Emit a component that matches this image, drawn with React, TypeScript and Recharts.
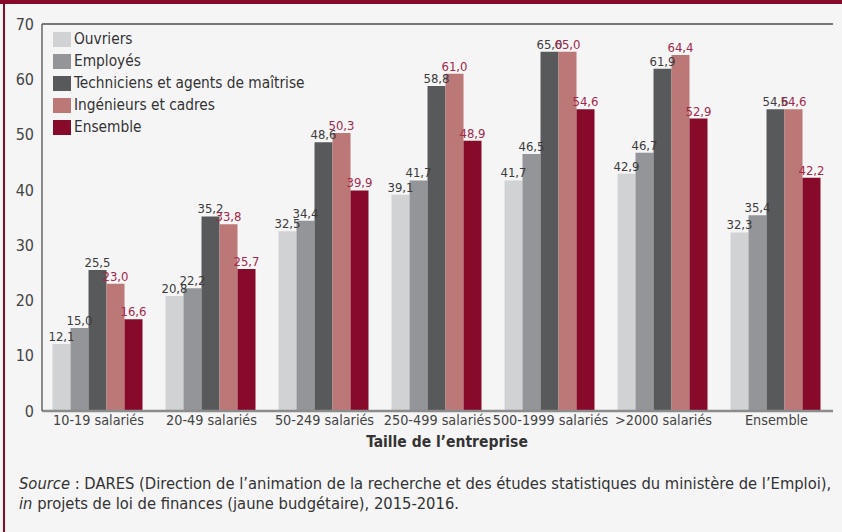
import React from "react";
import {
  BarChart,
  Bar,
  XAxis,
  YAxis,
  CartesianGrid,
  Legend,
  LabelList,
  ReferenceLine,
} from "recharts";

const categories = [
  "10-19 salariés",
  "20-49 salariés",
  "50-249 salariés",
  "250-499 salariés",
  "500-1999 salariés",
  ">2000 salariés",
  "Ensemble",
];
const ouvriers = [12.1, 20.8, 32.5, 39.1, 41.7, 42.9, 32.3];
const employes = [15.0, 22.2, 34.4, 41.7, 46.5, 46.7, 35.4];
const techniciens = [25.5, 35.2, 48.6, 58.8, 65.0, 61.9, 54.6];
const ingenieurs = [23.0, 33.8, 50.3, 61.0, 65.0, 64.4, 54.6];
const ensemble = [16.6, 25.7, 39.9, 48.9, 54.6, 52.9, 42.2];
const yTicks = [0, 10, 20, 30, 40, 50, 60, 70];

const seriesNames = [
  "Ouvriers",
  "Employés",
  "Techniciens et agents de maîtrise",
  "Ingénieurs et cadres",
  "Ensemble",
];
const seriesValues = [ouvriers, employes, techniciens, ingenieurs, ensemble];
const seriesColors = ["#d1d2d4", "#939598", "#58595b", "#bc7777", "#870a2b"];
const labelColors = ["#3c3c3c", "#3c3c3c", "#3c3c3c", "#a3284c", "#a3284c"];

const data = categories.map((c, i) => {
  const row: Record<string, string | number> = { cat: c };
  seriesValues.forEach((vals, s) => {
    row["s" + s] = vals[i];
  });
  return row;
});

const FONT = "'DejaVu Sans Condensed', 'Liberation Sans Narrow', 'DejaVu Sans', sans-serif";
const BG = "#f5f5f5";

const fmt = (v: any) => Number(v).toFixed(1).replace(".", ",");

const LegendContent = (props: any) => {
  const payload = [...(props.payload || [])].sort(
    (a: any, b: any) => seriesNames.indexOf(a.value) - seriesNames.indexOf(b.value)
  );
  return (
    <div style={{ fontFamily: FONT, fontSize: 15.3, color: "#333" }}>
      {payload.map((p: any, i: number) => (
        <div key={i} style={{ height: 22, display: "block" }}>
          <div
            style={{
              display: "inline-flex",
              alignItems: "center",
              background: BG,
              height: 22,
              paddingRight: 8,
            }}
          >
            <span
              style={{
                display: "inline-block",
                width: 18,
                height: 15,
                background: p.color,
                marginRight: 3,
              }}
            />
            <span style={{ whiteSpace: "nowrap" }}>{p.value}</span>
          </div>
        </div>
      ))}
    </div>
  );
};

export default function App() {
  return (
    <div
      style={{
        position: "absolute",
        left: 0,
        top: 0,
        width: 842,
        height: 532,
        background: BG,
        overflow: "hidden",
        fontFamily: FONT,
      }}
    >
      <div style={{ position: "absolute", left: 0, top: 0, width: 842, height: 4, background: "#870a2b" }} />
      <div style={{ position: "absolute", left: 3, top: 0, width: 2, height: 532, background: "#870a2b" }} />
      <BarChart
        width={842}
        height={460}
        data={data}
        margin={{ top: 24, right: 9, left: 8, bottom: 19 }}
        barCategoryGap="9.3%"
        barGap={0}
        style={{ fontFamily: FONT }}
      >
        <CartesianGrid
          vertical={false}
          stroke="#333"
          strokeDasharray="2 1.5"
          strokeWidth={1}
        />
        <XAxis
          dataKey="cat"
          height={30}
          tickLine={false}
          tickSize={4}
          tickMargin={0}
          axisLine={{ stroke: "#8c8c8c", strokeWidth: 2.5 }}
          tick={{ fill: "#444", fontSize: 14.3, fontFamily: FONT }}
          interval={0}
        />
        <YAxis
          yAxisId="left"
          width={34}
          domain={[0, 70]}
          ticks={yTicks}
          tickLine={false}
          axisLine={{ stroke: "#666", strokeWidth: 1.5 }}
          tick={{ fill: "#444", fontSize: 16, fontFamily: FONT }}
        />
        <YAxis
          yAxisId="right"
          orientation="right"
          width={0}
          domain={[0, 70]}
          ticks={yTicks}
          tick={false}
          tickLine={false}
          axisLine={{ stroke: "#777", strokeWidth: 2 }}
        />
        <ReferenceLine yAxisId="left" y={70} stroke="#777" strokeWidth={2} />
        <Legend
          layout="vertical"
          align="center"
          verticalAlign="middle"
          wrapperStyle={{ top: 28, left: 53, width: "auto" }}
          content={<LegendContent />}
        />
        {seriesNames.map((name, s) => (
          <Bar
            key={name}
            yAxisId="left"
            dataKey={"s" + s}
            name={name}
            fill={seriesColors[s]}
            isAnimationActive={false}
          >
            <LabelList
              dataKey={"s" + s}
              position="top"
              offset={3}
              formatter={fmt}
              fill={labelColors[s]}
              style={{ fontSize: 13, fontFamily: FONT, fill: labelColors[s] }}
            />
          </Bar>
        ))}
      </BarChart>
      <div
        style={{
          position: "absolute",
          left: 0,
          width: 894,
          top: 432,
          textAlign: "center",
          fontSize: 15.5,
          fontWeight: "bold",
          color: "#333",
          lineHeight: "20px",
        }}
      >
        Taille de l’entreprise
      </div>
      <div
        style={{
          position: "absolute",
          left: 19,
          top: 474,
          fontSize: 16.4,
          color: "#333",
          lineHeight: "19.5px",
          whiteSpace: "nowrap",
        }}
      >
        <div>
          <i>Source</i> : DARES (Direction de l’animation de la recherche et des études statistiques du ministère de l’Emploi),
        </div>
        <div>
          <i>in</i> projets de loi de finances (jaune budgétaire), 2015-2016.
        </div>
      </div>
    </div>
  );
}
